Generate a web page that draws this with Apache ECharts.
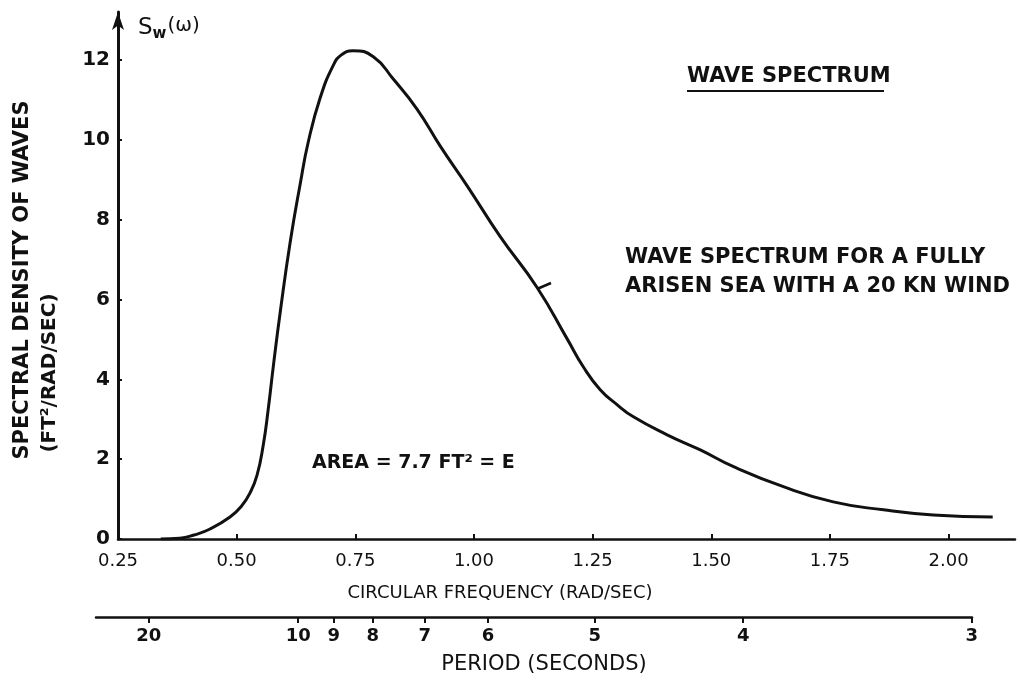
<!DOCTYPE html>
<html>
<head>
<meta charset="utf-8">
<script src="https://cdn.jsdelivr.net/npm/echarts@6/dist/echarts.min.js"></script>
<style>
  html, body { margin: 0; background: #fff; }
  #chart { width: 1020px; height: 680px; }
</style>
</head>
<body>
<div id="chart"></div>
<script>
// circular frequency (rad/sec) and spectral density (ft^2/rad/sec)
const omega = [0.34, 0.38, 0.41, 0.444, 0.486, 0.51, 0.528, 0.543, 0.556, 0.566, 0.578, 0.592, 0.613, 0.634, 0.651,
  0.676, 0.703, 0.72, 0.745, 0.788, 0.83, 0.88, 0.929, 0.986, 1.055, 1.133, 1.197, 1.23, 1.266, 1.302, 1.336,
  1.407, 1.477, 1.547, 1.652, 1.757, 1.863, 1.968, 2.093]
const density = [0, 0.02, 0.1, 0.25, 0.55, 0.82, 1.15, 1.6, 2.35, 3.2, 4.4, 5.7, 7.45, 8.9, 9.95,
  11.05, 11.85, 12.12, 12.23, 12.08, 11.52, 10.77, 9.84, 8.84, 7.58, 6.3, 5.0, 4.32, 3.74, 3.36, 3.06,
  2.61, 2.23, 1.81, 1.31, 0.93, 0.73, 0.6, 0.55]

const freqTicks = [0.25, 0.5, 0.75, 1.0, 1.25, 1.5, 1.75, 2.0]
const densityTicks = [0, 2, 4, 6, 8, 10, 12]
// period scale drawn under the frequency scale (positions in rad/sec)
const periodLabels = [20, 10, 9, 8, 7, 6, 5, 4, 3]
const periodTicks = [0.315, 0.63, 0.705, 0.787, 0.897, 1.03, 1.255, 1.568, 2.05]

const font = 'DejaVu Sans'
const ink = '#111'

const chart = echarts.init(document.getElementById('chart'))

chart.setOption({
  backgroundColor: '#fff',
  animation: false,
  grid: [
    { left: 118, right: 5, top: 12, bottom: 141 },
    { left: 96, right: 48, top: 616, height: 1 }
  ],
  xAxis: [{
    type: 'value',
    gridIndex: 0,
    min: 0.25,
    max: 2.14,
    splitLine: { show: false },
    axisLine: { lineStyle: { color: ink, width: 2.5 } },
    axisTick: { inside: true, length: 5, customValues: freqTicks, lineStyle: { color: ink, width: 2 } },
    axisLabel: {
      customValues: freqTicks,
      margin: 13,
      color: ink,
      fontFamily: font,
      fontSize: 18,
      formatter: v => v.toFixed(2)
    }
  }, {
    type: 'value',
    gridIndex: 1,
    position: 'bottom',
    min: 0.2036,
    max: 2.0505,
    splitLine: { show: false },
    axisLine: { lineStyle: { color: ink, width: 2.5 } },
    axisTick: { length: 6, customValues: periodTicks, lineStyle: { color: ink, width: 2 } },
    axisLabel: {
      customValues: periodTicks,
      margin: 10,
      color: ink,
      fontFamily: font,
      fontWeight: 'bold',
      fontSize: 18,
      formatter: v => {
        const i = periodTicks.indexOf(v)
        return i >= 0 ? String(periodLabels[i]) : ''
      }
    }
  }],
  yAxis: [{
    type: 'value',
    gridIndex: 0,
    min: 0,
    max: 13.2,
    splitLine: { show: false },
    axisLine: {
      lineStyle: { color: ink, width: 3 },
      symbol: ['none', 'arrow'],
      symbolSize: [9, 18]
    },
    axisTick: { inside: true, length: 4, customValues: densityTicks, lineStyle: { color: ink, width: 2 } },
    axisLabel: {
      customValues: densityTicks,
      margin: 8,
      color: ink,
      fontFamily: font,
      fontWeight: 'bold',
      fontSize: 20
    }
  }, {
    type: 'value',
    gridIndex: 1,
    show: false
  }],
  series: [{
    type: 'line',
    xAxisIndex: 0,
    yAxisIndex: 0,
    data: omega.map((w, i) => [w, density[i]]),
    smooth: 0.5,
    showSymbol: false,
    lineStyle: { color: ink, width: 3 }
  }],
  graphic: [
    {
      type: 'text', x: 138, y: 28,
      style: {
        text: '{s|S}{w|w}{p|(ω)}',
        verticalAlign: 'middle',
        rich: {
          s: { fontFamily: font, fontSize: 23, fill: ink },
          w: { fontFamily: font, fontSize: 15, fontWeight: 'bold', fill: ink, padding: [12, 1, 0, 0] },
          p: { fontFamily: font, fontSize: 20, fill: ink, padding: [0, 0, 5, 0] }
        }
      }
    },
    {
      type: 'text', x: 23, y: 280, rotation: Math.PI / 2,
      style: {
        text: 'SPECTRAL DENSITY OF WAVES', fontFamily: font, fontSize: 21, fontWeight: 'bold',
        fill: ink, align: 'center', verticalAlign: 'middle'
      }
    },
    {
      type: 'text', x: 50, y: 373, rotation: Math.PI / 2,
      style: {
        text: '(FT²/RAD/SEC)', fontFamily: font, fontSize: 20, fontWeight: 'bold',
        fill: ink, align: 'center', verticalAlign: 'middle'
      }
    },
    {
      type: 'text', x: 500, y: 593,
      style: {
        text: 'CIRCULAR FREQUENCY (RAD/SEC)', fontFamily: font, fontSize: 18,
        fill: ink, align: 'center', verticalAlign: 'middle'
      }
    },
    {
      type: 'text', x: 544, y: 665,
      style: {
        text: 'PERIOD (SECONDS)', fontFamily: font, fontSize: 21,
        fill: ink, align: 'center', verticalAlign: 'middle'
      }
    },
    {
      type: 'text', x: 687, y: 77,
      style: {
        text: 'WAVE SPECTRUM', fontFamily: font, fontSize: 21, fontWeight: 'bold',
        fill: ink, align: 'left', verticalAlign: 'middle'
      }
    },
    {
      type: 'line', shape: { x1: 687, y1: 91, x2: 884, y2: 91 },
      style: { stroke: ink, lineWidth: 2 }
    },
    {
      type: 'text', x: 625, y: 258,
      style: {
        text: 'WAVE SPECTRUM FOR A FULLY', fontFamily: font, fontSize: 21, fontWeight: 'bold',
        fill: ink, align: 'left', verticalAlign: 'middle'
      }
    },
    {
      type: 'text', x: 625, y: 287,
      style: {
        text: 'ARISEN SEA WITH A 20 KN WIND', fontFamily: font, fontSize: 21, fontWeight: 'bold',
        fill: ink, align: 'left', verticalAlign: 'middle'
      }
    },
    {
      type: 'line', shape: { x1: 537, y1: 289, x2: 551, y2: 283 },
      style: { stroke: ink, lineWidth: 2.5 }
    },
    {
      type: 'text', x: 312, y: 463,
      style: {
        text: 'AREA = 7.7 FT² = E', fontFamily: font, fontSize: 19, fontWeight: 'bold',
        fill: ink, align: 'left', verticalAlign: 'middle'
      }
    }
  ]
})
</script>
</body>
</html>
